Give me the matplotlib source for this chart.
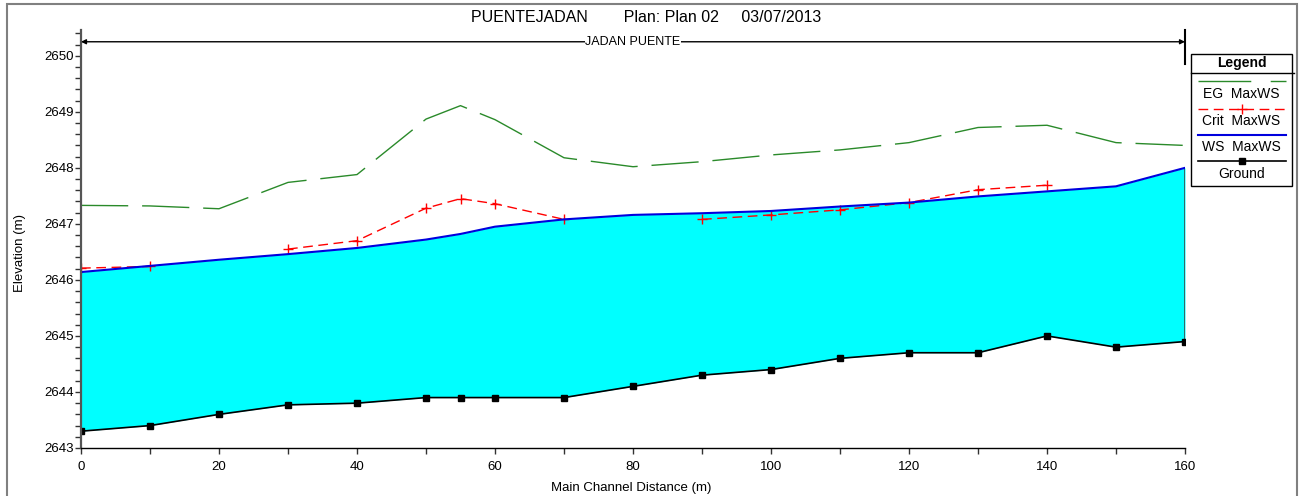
import numpy as np
import matplotlib.pyplot as plt
from matplotlib.lines import Line2D
from matplotlib.patches import Rectangle
from matplotlib.ticker import MultipleLocator


# Water surface profile along the reach
station = [0, 10, 20, 30, 40, 50, 55, 60, 70, 80, 90, 100, 110, 120, 130, 140, 150, 160]
ground = [2643.3, 2643.4, 2643.6, 2643.77, 2643.8, 2643.9, 2643.9, 2643.9, 2643.9,
          2644.1, 2644.3, 2644.4, 2644.6, 2644.7, 2644.7, 2645.0, 2644.8, 2644.9]
ws_max = [2646.14, 2646.25, 2646.36, 2646.46, 2646.57, 2646.72, 2646.82, 2646.95, 2647.08,
          2647.16, 2647.19, 2647.23, 2647.31, 2647.38, 2647.49, 2647.58, 2647.67, 2648.0]
crit_max = [2646.21, 2646.24, np.nan, 2646.55, 2646.70, 2647.28, 2647.45, 2647.36, 2647.08,
            np.nan, 2647.08, 2647.16, 2647.25, 2647.38, 2647.61, 2647.69, np.nan, np.nan]
eg_max = [2647.33, 2647.32, 2647.27, 2647.74, 2647.88, 2648.87, 2649.11, 2648.86, 2648.18,
          2648.02, 2648.11, 2648.23, 2648.32, 2648.45, 2648.72, 2648.76, 2648.45, 2648.40]

title = "PUENTEJADAN        Plan: Plan 02     03/07/2013"
reach_name = "JADAN PUENTE"
legend_labels = ["EG  MaxWS", "Crit  MaxWS", "WS  MaxWS", "Ground"]

narrow = ["Liberation Sans Narrow", "Liberation Sans", "DejaVu Sans"]
normal = ["Liberation Sans", "DejaVu Sans"]

eg_color = "#2a8a2a"
fig = plt.figure(figsize=(13.01, 4.96), dpi=100)
ax = fig.add_axes([81 / 1301, 48 / 496, (1185 - 81) / 1301, (448 - 30) / 496])

# water between the bed and the water surface
ax.fill_between(station, ground, ws_max, color="#00ffff", lw=0)
ax.plot([station[-1], station[-1]], [ground[-1], ws_max[-1]], color="#336666", lw=1.4)

ax.plot(station, eg_max, color=eg_color, lw=1.0, linestyle=(0, (34, 10)))
ax.plot(station, crit_max, color="red", lw=1.0, linestyle=(0, (7, 4)),
        marker="+", markersize=7, markeredgewidth=1.0)
ax.plot(station, ws_max, color="#0000dd", lw=1.5)
ax.plot(station, ground, color="black", lw=1.2, marker="s", markersize=4.5)

ax.set_xlim(0, 160)
ax.set_ylim(2643, 2650.46)
ax.xaxis.set_major_locator(MultipleLocator(20))
ax.xaxis.set_minor_locator(MultipleLocator(10))
ax.yaxis.set_major_locator(MultipleLocator(1))
ax.yaxis.set_minor_locator(MultipleLocator(0.2))
ax.tick_params(which="both", direction="out", length=4, width=1, color="#333333")
ax.tick_params(axis="y", pad=1)
ax.tick_params(axis="x", pad=5)
for lab in ax.get_xticklabels() + ax.get_yticklabels():
    lab.set_family(narrow)
    lab.set_fontsize(9.5)
ax.spines["top"].set_visible(False)
ax.spines["right"].set_visible(False)
ax.spines["left"].set_color("#555555")
ax.spines["left"].set_linewidth(1.6)
ax.spines["bottom"].set_linewidth(1.0)

# reach extent arrow with its name
reach_y = 2650.25
ax.annotate("", xy=(station[0], reach_y), xytext=(station[-1], reach_y),
            arrowprops=dict(arrowstyle="<|-|>", color="black", lw=1.0,
                            mutation_scale=7, shrinkA=0, shrinkB=0))
ax.plot([station[-1], station[-1]], [2649.85, 2650.46], color="black", lw=1.5, clip_on=False)
ax.text(80, reach_y, reach_name, ha="center", va="center", fontsize=9,
        family=narrow, backgroundcolor="white",
        bbox=dict(facecolor="white", edgecolor="none", pad=0.5))

fig.text(0.497, 1 - 18 / 496, title, ha="center", va="center", fontsize=11.5, family=normal)
fig.text(20 / 1301, 1 - 253 / 496, "Elevation (m)", rotation=90, ha="center", va="center",
         fontsize=9.5, family=normal)
fig.text(631 / 1301, 1 - 488 / 496, "Main Channel Distance (m)", ha="center", va="center",
         fontsize=9.5, family=narrow)

# legend box
lx0, lx1 = 1191, 1292
ly0, ly1 = 54, 186
fig.patches.append(Rectangle((lx0 / 1301, 1 - ly1 / 496), (lx1 - lx0) / 1301, (ly1 - ly0) / 496,
                             transform=fig.transFigure, facecolor="white",
                             edgecolor="black", lw=1.0))
fig.add_artist(Line2D([lx0 / 1301, 1294 / 1301], [1 - 73 / 496, 1 - 73 / 496],
                      color="black", lw=1.0))
fig.text((lx0 + lx1) / 2 / 1301, 1 - 63.5 / 496, "Legend", ha="center", va="center",
         fontsize=10, fontweight="bold", family=normal)

styles = [
    dict(color=eg_color, lw=1.0, linestyle=(0, (38, 14))),
    dict(color="red", lw=1.0, linestyle=(0, (7, 4))),
    dict(color="#0000dd", lw=1.5),
    dict(color="black", lw=1.2),
]
line_rows = [81, 108.5, 134.5, 160.5]
text_rows = [94.5, 121, 147, 173.5]
for i, (label, style) in enumerate(zip(legend_labels, styles)):
    yl = 1 - line_rows[i] / 496
    fig.add_artist(Line2D([1198 / 1301, 1286 / 1301], [yl, yl], **style))
    fig.text((lx0 + lx1) / 2 / 1301, 1 - text_rows[i] / 496, label, ha="center", va="center",
             fontsize=10, family=normal)
xm = (1198 + 1286) / 2 / 1301
fig.add_artist(Line2D([xm], [1 - line_rows[1] / 496], color="red", marker="+",
                      markersize=7, lw=0))
fig.add_artist(Line2D([xm], [1 - line_rows[3] / 496], color="black", marker="s",
                      markersize=4.5, lw=0))

# outer frame
fig.patches.append(Rectangle((7 / 1301, -0.01), (1297 - 7) / 1301, 1.01 - 4 / 496,
                             transform=fig.transFigure, facecolor="none",
                             edgecolor="#808080", lw=1.5))

fig.savefig("out.png", dpi=100)
